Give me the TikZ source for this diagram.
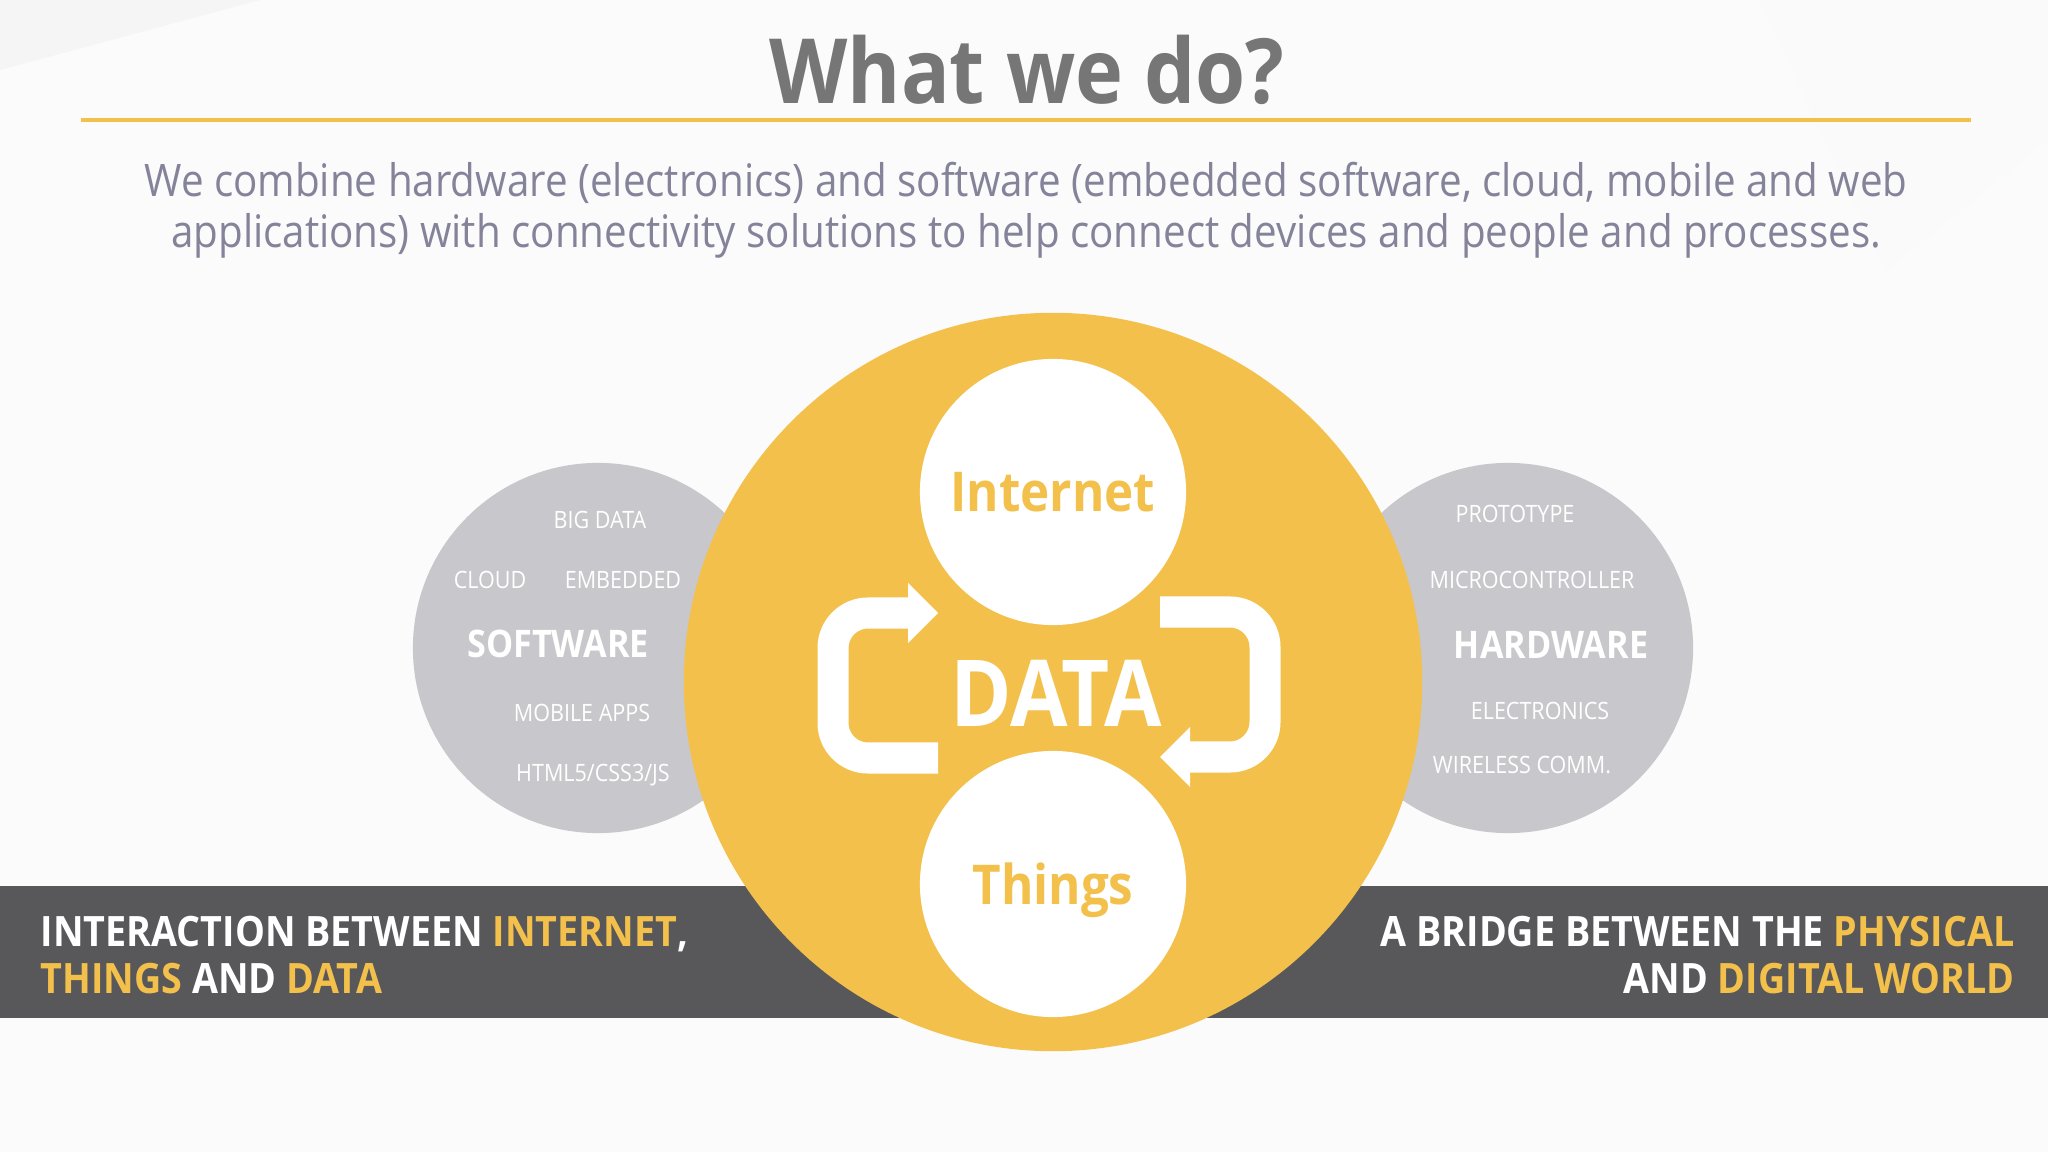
\documentclass[tikz,border=0pt]{standalone}
\usepackage{fontspec}
\setmainfont{Open Sans}[FakeStretch=0.9]
\usetikzlibrary{positioning}
\definecolor{wwdyellow}{HTML}{F3C14B}
\definecolor{wwdgray}{HTML}{C8C7CB}
\definecolor{wwddark}{HTML}{58585A}
\definecolor{wwdtitle}{HTML}{767676}
\definecolor{wwdsub}{HTML}{85839A}
\definecolor{wwdback}{HTML}{FBFBFC}
\tikzset{titletext/.style={anchor=base, inner sep=0pt, text=wwdtitle,
    font=\fontsize{25.6}{30}\selectfont\bfseries},
  subtext/.style={align=center, inner sep=0pt, text=wwdsub,
    font=\fontsize{12.75}{14.5}\selectfont},
  sidecircle/.style={circle, fill=wwdgray, minimum size=3.7cm, inner sep=0pt},
  datacircle/.style={circle, fill=wwdyellow, minimum size=7.38cm, inner sep=0pt},
  smallcircle/.style={circle, fill=white, minimum size=2.66cm, inner sep=0pt,
    text depth=0pt, text=wwdyellow, font=\fontsize{15.6}{18}\selectfont\bfseries},
  sidelabel/.style={anchor=base, inner sep=0pt, text=white,
    font=\fontsize{6.8}{8}\selectfont},
  sidehead/.style={anchor=base, inner sep=0pt, text=white,
    font=\fontsize{10.8}{12}\selectfont\bfseries},
  bartext/.style={inner sep=0pt, text=white,
    font=\fontsize{11.9}{13.4}\selectfont\bfseries},
  cyclearrow/.style={draw=white, line width=0.31cm, rounded corners=0.35cm}}
\newcommand{\hl}[1]{\textcolor{wwdyellow}{#1}}

\begin{document}
\begin{tikzpicture}[x=0.01cm, y=-0.01cm]
  \useasboundingbox (0,0) rectangle (2048,1152);
  \fill[wwdback] (0,0) rectangle (2048,1152);
  % faint facets in the background
  \fill[black!4] (0,0) -- (260,0) -- (0,70) -- cycle;
  \fill[black!2] (1760,0) -- (2048,0) -- (2048,620) -- cycle;
  \fill[black!1.5] (1850,300) -- (2048,140) -- (2048,880) -- cycle;

  \node[titletext] (title) at (1027,104) {What we do?};
  \coordinate (ruleL) at (81,120);
  \coordinate (ruleR) at (1971,120);
  \draw[wwdyellow, line width=0.04cm] (ruleL) -- (ruleR);
  \node[subtext] (sub) at (1026,210) {We combine hardware (electronics) and software (embedded software, cloud, mobile and web\\
    applications) with connectivity solutions to help connect devices and people and processes.};

  \node[sidecircle] (soft) at (598,648) {};
  \node[sidecircle] (hard) at (1508,648) {};
  \fill[wwddark] (0,886) rectangle (2048,1018);
  \node[datacircle] (data) at (1053,682) {};
  \node[smallcircle] (inet) at (1053,492) {Internet};
  \node[smallcircle] (things) at (1053,884) {Things};

  % the two turning arrows
  \draw[cyclearrow] (938,758) -- (833,758) -- (833,613) -- (908,613);
  \fill[white] (908,583) -- (938,613) -- (908,643) -- cycle;
  \draw[cyclearrow] (1160,612) -- (1265,612) -- (1265,757) -- (1190,757);
  \fill[white] (1190,727) -- (1160,757) -- (1190,787) -- cycle;
  \node[anchor=base, inner sep=0pt, text=white,
    font=\fontsize{26.3}{30}\selectfont\bfseries] (datatext) at (1056,726) {DATA};

  \node[sidelabel] (bigdata) at (600,528) {BIG DATA};
  \node[sidelabel] (cloud) at (490,589) {CLOUD};
  \node[sidelabel] (embedded) at (623,589) {EMBEDDED};
  \node[sidehead] (software) at (558,657) {SOFTWARE};
  \node[sidelabel] (mobile) at (582,721) {MOBILE APPS};
  \node[sidelabel] (web) at (593,781) {HTML5/CSS3/JS};

  \node[sidelabel] (proto) at (1515,523) {PROTOTYPE};
  \node[sidelabel] (mcu) at (1532,588) {MICROCONTROLLER};
  \node[sidehead] (hardware) at (1551,659) {HARDWARE};
  \node[sidelabel] (elec) at (1540,719) {ELECTRONICS};
  \node[sidelabel] (wireless) at (1522,773) {WIRELESS COMM.};

  \node[bartext, anchor=west, align=left] (leftbar) at (40,955)
    {INTERACTION BETWEEN \hl{INTERNET},\\\hl{THINGS} AND \hl{DATA}};
  \node[bartext, anchor=east, align=right] (rightbar) at (2015,955)
    {A BRIDGE BETWEEN THE \hl{PHYSICAL}\\AND \hl{DIGITAL WORLD}};
\end{tikzpicture}
\end{document}
